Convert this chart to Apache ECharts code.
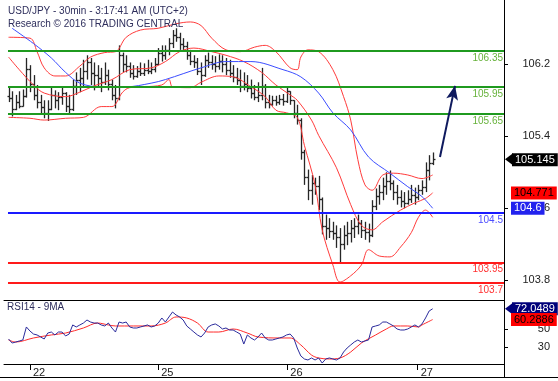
<!DOCTYPE html>
<html><head><meta charset="utf-8">
<script src="https://cdn.jsdelivr.net/npm/echarts@6/dist/echarts.min.js"></script>
<style>html,body{margin:0;padding:0;background:#fff}#c{width:558px;height:381px}</style>
</head><body><div id="c"></div>
<script>
// ---- price bars (30 min) ----
const O=[105.85,105.82,105.70,105.78,105.74,105.85,106.15,105.98,105.86,105.78,
105.72,105.66,105.70,105.86,105.80,105.84,105.88,105.74,105.70,105.96,
106.02,106.05,106.12,106.22,106.10,106.08,106.05,106.00,106.08,105.98,
105.86,105.82,106.30,106.20,106.18,106.10,106.07,106.12,106.10,106.14,
106.12,106.15,106.20,106.32,106.30,106.36,106.44,106.52,106.50,106.42,
106.40,106.30,106.24,106.22,106.12,106.08,106.25,106.22,106.20,106.18,
106.24,106.20,106.14,106.10,106.06,106.02,105.96,105.98,105.94,105.88,
105.84,105.86,105.96,105.78,105.76,105.80,105.78,105.81,105.79,105.90,
105.80,105.66,105.58,105.22,104.95,104.80,104.88,104.85,104.70,104.40,
104.38,104.35,104.32,104.28,104.20,104.30,104.33,104.38,104.40,104.44,
104.36,104.34,104.30,104.62,104.74,104.78,104.85,104.90,104.88,104.78,
104.72,104.68,104.66,104.70,104.75,104.72,104.80,104.84,105.02,105.10];
const H=[105.94,105.90,105.86,105.90,105.92,106.27,106.19,106.08,105.97,105.86,
105.80,105.80,105.94,105.91,105.89,105.94,105.89,105.86,106.03,106.11,
106.16,106.25,106.30,106.27,106.22,106.19,106.16,106.22,106.14,106.03,
105.97,106.41,106.33,106.30,106.22,106.19,106.18,106.22,106.21,106.25,
106.22,106.27,106.38,106.41,106.41,106.49,106.58,106.60,106.55,106.49,
106.45,106.36,106.30,106.27,106.22,106.30,106.33,106.30,106.29,106.31,
106.30,106.27,106.25,106.19,106.16,106.14,106.11,106.08,106.03,105.97,
106.00,106.16,105.98,105.86,105.85,105.85,105.86,105.87,105.94,105.90,
105.80,105.75,105.60,105.25,105.03,104.97,104.94,104.96,104.72,104.53,
104.49,104.45,104.41,104.38,104.41,104.45,104.47,104.49,104.53,104.47,
104.45,104.43,104.69,104.82,104.86,104.94,105.00,105.02,104.91,104.86,
104.80,104.78,104.80,104.86,104.83,104.86,104.91,105.11,105.19,105.22];
const L=[105.78,105.62,105.69,105.71,105.73,105.83,105.89,105.80,105.71,105.64,
105.60,105.57,105.69,105.71,105.69,105.75,105.67,105.64,105.68,105.86,
105.89,105.94,106.03,105.97,105.91,105.94,105.89,105.97,105.91,105.80,
105.71,105.80,106.11,106.11,106.05,106.03,106.05,106.07,106.07,106.09,
106.09,106.11,106.19,106.23,106.25,106.30,106.38,106.45,106.36,106.34,
106.25,106.19,106.16,106.08,105.97,106.06,106.16,106.14,106.11,106.14,
106.11,106.08,106.05,106.00,105.97,105.89,105.91,105.89,105.82,105.80,
105.78,105.80,105.71,105.71,105.74,105.74,105.75,105.74,105.77,105.75,
105.60,105.53,105.14,104.86,104.69,104.64,104.75,104.58,104.31,104.25,
104.27,104.25,104.16,104.00,104.14,104.19,104.22,104.27,104.31,104.27,
104.25,104.22,104.28,104.58,104.64,104.69,104.75,104.80,104.69,104.64,
104.61,104.60,104.64,104.66,104.64,104.69,104.75,104.78,104.91,105.08];
const C=[105.82,105.70,105.78,105.74,105.85,106.15,105.98,105.86,105.78,105.72,
105.66,105.70,105.86,105.80,105.84,105.88,105.74,105.70,105.96,106.02,
106.05,106.12,106.22,106.10,106.08,106.05,106.00,106.08,105.98,105.86,
105.82,106.30,106.20,106.18,106.10,106.07,106.12,106.10,106.14,106.12,
106.15,106.20,106.32,106.30,106.36,106.44,106.52,106.50,106.42,106.40,
106.30,106.24,106.22,106.12,106.08,106.25,106.22,106.20,106.18,106.24,
106.20,106.14,106.10,106.06,106.02,105.96,105.98,105.94,105.88,105.84,
105.86,105.96,105.78,105.76,105.80,105.78,105.81,105.79,105.90,105.80,
105.66,105.58,105.22,104.95,104.80,104.88,104.85,104.70,104.40,104.38,
104.35,104.32,104.28,104.20,104.30,104.33,104.38,104.40,104.44,104.36,
104.34,104.30,104.62,104.74,104.78,104.85,104.90,104.88,104.78,104.72,
104.68,104.66,104.70,104.75,104.72,104.80,104.84,105.02,105.10,105.145];

// ---- Bollinger bands and moving average (bar index, price) ----
const upIdx=[0,6,8,10,13,16,20,23,27,30,33,37,42,47,51,54,57,61,65,69,72,75,79,81,82,84,87,91,94,96,98,100,102,105,108,112,116,119];
const upVal=[106.50,106.49,106.34,106.16,106.07,106.07,106.18,106.28,106.33,106.34,106.50,106.58,106.60,106.65,106.67,106.63,106.49,106.36,106.34,106.39,106.41,106.34,106.16,106.14,106.28,106.36,106.34,106.14,105.84,105.58,105.14,104.86,104.80,104.97,104.99,104.97,104.93,104.97];
const midIdx=[0,3,7,10,16,20,24,29,34,40,44,48,52,57,61,66,71,75,79,81,85,87,92,96,99,102,105,110,114,117,119];
const midVal=[106.28,106.14,105.97,105.88,105.84,105.89,105.96,106.03,106.14,106.16,106.23,106.34,106.38,106.34,106.30,106.23,106.11,105.97,105.86,105.80,105.58,105.41,105.05,104.64,104.41,104.36,104.45,104.58,104.66,104.71,104.771];
const lowIdx=[0,6,10,16,21,26,29,32,34,38,43,45,46,51,54,59,63,68,72,75,78,81,83,86,88,91,93,96,99,101,104,107,110,113,115,117,119];
const lowVal=[105.61,105.60,105.58,105.60,105.61,105.73,105.73,105.89,105.94,105.95,105.97,106.03,105.95,105.94,106.00,106.07,106.06,105.95,105.84,105.69,105.66,105.61,105.30,104.86,104.36,103.97,103.78,103.85,103.97,104.14,104.07,104.06,104.17,104.33,104.50,104.58,104.50];
const maIdx=[1,7,12,16,20,26,33,40,44,54,61,68,77,82,87,91,96,101,107,112,116,119];
const maVal=[106.60,106.43,106.27,106.11,105.99,105.95,105.95,105.99,106.03,106.16,106.23,106.23,106.14,106.06,105.88,105.66,105.47,105.17,104.99,104.84,104.73,104.6];

// ---- RSI14 and its 9MA ----
const rsi=[39.1,34.7,35.8,36.9,38.0,52.2,47.8,44.5,43.5,41.3,
39.1,45.6,46.7,43.5,46.7,46.7,42.4,44.5,54.4,52.2,
54.4,56.5,59.8,57.6,56.5,56.5,54.4,53.3,56.5,51.1,
46.7,57.6,56.5,57.6,52.2,51.1,51.1,52.2,53.3,54.4,
52.2,53.3,56.5,62.0,57.6,63.1,68.5,65.3,63.1,59.8,
53.3,50.0,46.7,43.5,41.3,45.6,52.2,54.4,55.5,53.3,
50.0,51.1,48.9,48.9,46.7,44.5,33.6,43.5,40.2,38.0,
41.3,45.6,40.2,38.0,38.0,39.1,40.2,41.3,43.5,44.5,
40.2,29.3,20.6,17.3,16.2,18.4,16.2,18.4,12.9,17.3,
18.4,17.3,16.2,18.4,24.9,29.3,32.6,35.8,38.0,35.8,
36.9,38.0,52.2,53.3,54.4,57.6,57.6,55.5,53.3,50.0,
48.9,48.9,50.0,52.2,54.4,52.2,55.5,62.0,69.6,72.0489];
const rsiMaIdx=[0,2,7,12,16,21,25,28,30,35,40,44,47,50,53,56,59,63,67,70,76,79,82,85,87,90,93,96,99,103,106,108,112,115,116,119];
const rsiMaVal=[38.0,35.8,40.2,43.5,45.6,51.1,56.5,54.4,53.3,53.3,53.3,56.5,63.1,62.0,56.5,46.7,46.7,50.0,45.6,41.3,40.2,40.2,32.6,21.6,18.4,17.3,18.4,24.9,34.7,43.5,50.0,53.3,53.3,52.2,54.4,60.2886];

// ---- levels, ticks, labels ----
const levelVal=[106.35,105.95,105.65,104.55,104.00,103.77];
const levelText=['106.35','105.95','105.65','104.5','103.95','103.7'];
const priceTicks=[103.8,104.6,105.4,106.2];
const rsiTicks=[30,50];
const dayIdx=[6,42,78.2,114.8];
const dayText=['22','25','26','27'];
const arrowIdx=[121.05,125.26];
const arrowVal=[105.17,105.96];

// ---- styles (not data) ----
const levelStyle=[['#1f9a1f','#66b23a'],['#1f9a1f','#66b23a'],['#1f9a1f','#66b23a'],['#1a1aff','#4d4dff'],['#ff1a1a','#ff3030'],['#ff1a1a','#ff3030']];
const XMIN=-1.28, XMAX=139.01;
const FONT='"Liberation Sans", Arial, sans-serif';

const pts=(idx,val)=>idx.map((x,k)=>[x,val[k]]);
const bars=C.map((c,i)=>[i,O[i],H[i],L[i],c]);

function renderOHLC(params, api){
  const x=api.value(0);
  const pH=api.coord([x,api.value(2)]), pL=api.coord([x,api.value(3)]);
  const pO=api.coord([x,api.value(1)]), pC=api.coord([x,api.value(4)]);
  const cx=Math.round(pH[0])+0.5;
  const st={stroke:'#262626', lineWidth:1.3};
  const yo=Math.round(pO[1])+0.5, yc=Math.round(pC[1])+0.5;
  return {type:'group', children:[
    {type:'line', shape:{x1:cx,y1:pH[1],x2:cx,y2:pL[1]}, style:st},
    {type:'line', shape:{x1:cx-2,y1:yo,x2:cx,y2:yo}, style:st},
    {type:'line', shape:{x1:cx,y1:yc,x2:cx+2,y2:yc}, style:st}
  ]};
}

function tag(val, bg, fg, dist){
  return {silent:true, symbol:'none', animation:false, lineStyle:{color:'rgba(0,0,0,0)',width:0},
    data:[{yAxis:val}],
    label:{show:true, position:'end', distance:dist, formatter:String(val), backgroundColor:bg, color:fg,
      fontFamily:FONT, fontSize:11, padding:[1,3,0,3], lineHeight:12, opacity:1}};
}
function pointer(coord,color){
  return {silent:true, animation:false, data:[{coord:coord}], symbol:'triangle', symbolSize:[12,8], symbolRotate:90,
    symbolOffset:[5,0], itemStyle:{color:color}, label:{show:false}};
}

const chart=echarts.init(document.getElementById('c'),null,{renderer:'canvas'});
chart.setOption({
  animation:false,
  backgroundColor:'#fff',
  grid:[{left:4,right:54,top:0,height:300},{left:4,right:54,top:300,height:64}],
  xAxis:[
    {type:'value',gridIndex:0,min:XMIN,max:XMAX,axisLine:{show:true,onZero:false,lineStyle:{color:'#000',width:1}},axisTick:{show:false},axisLabel:{show:false},splitLine:{show:false}},
    {type:'value',gridIndex:1,min:XMIN,max:XMAX,axisLine:{show:true,onZero:false,lineStyle:{color:'#000',width:1}},
      axisTick:{show:true,inside:false,customValues:dayIdx,length:6,lineStyle:{color:'#000'}},
      axisLabel:{show:true,customValues:dayIdx,align:'left',margin:3,padding:[0,0,0,3],fontFamily:FONT,fontSize:11,color:'#222',
        formatter:v=>{const k=dayIdx.findIndex(d=>Math.abs(d-v)<1e-6);return k<0?'':dayText[k];}},
      splitLine:{show:false}}
  ],
  yAxis:[
    {type:'value',gridIndex:0,position:'right',min:103.581,max:106.914,axisLine:{show:true,onZero:false,lineStyle:{color:'#000'}},
      axisTick:{show:true,inside:false,customValues:priceTicks,length:4,lineStyle:{color:'#000'}},
      axisLabel:{show:true,inside:false,customValues:priceTicks,align:'right',margin:46,fontFamily:FONT,fontSize:11,color:'#222',formatter:v=>v.toFixed(1)},
      splitLine:{show:false},minorTick:{show:false}},
    {type:'value',gridIndex:1,position:'right',min:11.83,max:81.62,axisLine:{show:true,onZero:false,lineStyle:{color:'#000'}},
      axisTick:{show:true,inside:false,customValues:rsiTicks,length:4,lineStyle:{color:'#000'}},
      axisLabel:{show:true,inside:false,customValues:rsiTicks,align:'right',margin:46,fontFamily:FONT,fontSize:11,color:'#222'},
      splitLine:{show:false},minorTick:{show:false}}
  ],
  series:[
    {type:'line',xAxisIndex:0,yAxisIndex:0,data:[],silent:true,
      markLine:{silent:true,symbol:'none',animation:false,
        data:levelVal.map((v,k)=>[
          {coord:[-0.16,v],lineStyle:{color:levelStyle[k][0],width:2,type:'solid'},
           label:{show:true,position:'insideEndBottom',distance:[1,2],formatter:levelText[k],color:levelStyle[k][1],fontFamily:FONT,fontSize:10}},
          {coord:[XMAX,v]}])}},
    {type:'custom',xAxisIndex:0,yAxisIndex:0,renderItem:renderOHLC,data:bars,silent:true,z:3,
      encode:{x:0,y:[1,2,3,4]}},
    {type:'line',xAxisIndex:0,yAxisIndex:0,data:pts(upIdx,upVal),smooth:0.35,symbol:'none',silent:true,z:4,
      lineStyle:{color:'#ff3b3b',width:1},
      markLine:tag(C[C.length-1],'#000','#fff',8),
      markPoint:pointer([XMAX,C[C.length-1]],'#000')},
    {type:'line',xAxisIndex:0,yAxisIndex:0,data:pts(midIdx,midVal),smooth:0.35,symbol:'none',silent:true,z:4,
      lineStyle:{color:'#ff3b3b',width:1},
      markLine:tag(midVal[midVal.length-1],'#ff0000','#000',7)},
    {type:'line',xAxisIndex:0,yAxisIndex:0,data:pts(lowIdx,lowVal),smooth:0.35,symbol:'none',silent:true,z:4,
      lineStyle:{color:'#ff3b3b',width:1}},
    {type:'line',xAxisIndex:0,yAxisIndex:0,data:pts(maIdx,maVal),smooth:0.35,symbol:'none',silent:true,z:4,
      lineStyle:{color:'#3b4dff',width:1},
      markLine:tag(maVal[maVal.length-1],'#2222ee','#fff',7)},
    {type:'line',xAxisIndex:0,yAxisIndex:0,data:[],silent:true,
      markLine:{silent:true,animation:false,symbol:['none','arrow'],symbolSize:[9,14],
        lineStyle:{color:'#0f1a5e',width:2,type:'solid'},label:{show:false},
        data:[[{coord:[arrowIdx[0],arrowVal[0]]},{coord:[arrowIdx[1],arrowVal[1]]}]]}},
    {type:'line',xAxisIndex:1,yAxisIndex:1,data:rsi.map((v,i)=>[i,v]),symbol:'none',silent:true,z:5,
      lineStyle:{color:'#2b2b9c',width:1},
      markLine:tag(rsi[rsi.length-1],'#00007a','#fff',8),
      markPoint:pointer([XMAX,rsi[rsi.length-1]],'#00007a')},
    {type:'line',xAxisIndex:1,yAxisIndex:1,data:pts(rsiMaIdx,rsiMaVal),smooth:0.35,symbol:'none',silent:true,z:4,
      lineStyle:{color:'#ff2a2a',width:1},
      markLine:tag(rsiMaVal[rsiMaVal.length-1],'#ff0000','#000',7)}
  ],
  graphic:[
    {type:'text',left:8,top:6,z:100,style:{text:'USD/JPY - 30min - 3:17:41 AM (UTC+2)',font:'10px '+FONT,fill:'#2e2e5c'}},
    {type:'text',left:8,top:19,z:100,style:{text:'Research \u00a9 2016 TRADING CENTRAL',font:'10px '+FONT,fill:'#2e2e5c'}},
    {type:'text',left:7,top:302,z:100,style:{text:'RSI14 - 9MA',font:'10px '+FONT,fill:'#2e2e5c'}},
    {type:'line',z:100,shape:{x1:504.5,y1:364,x2:504.5,y2:377},style:{stroke:'#000',lineWidth:1}},
    {type:'line',z:100,shape:{x1:0,y1:377.5,x2:558,y2:377.5},style:{stroke:'#000',lineWidth:1}}
  ]
});
</script></body></html>
